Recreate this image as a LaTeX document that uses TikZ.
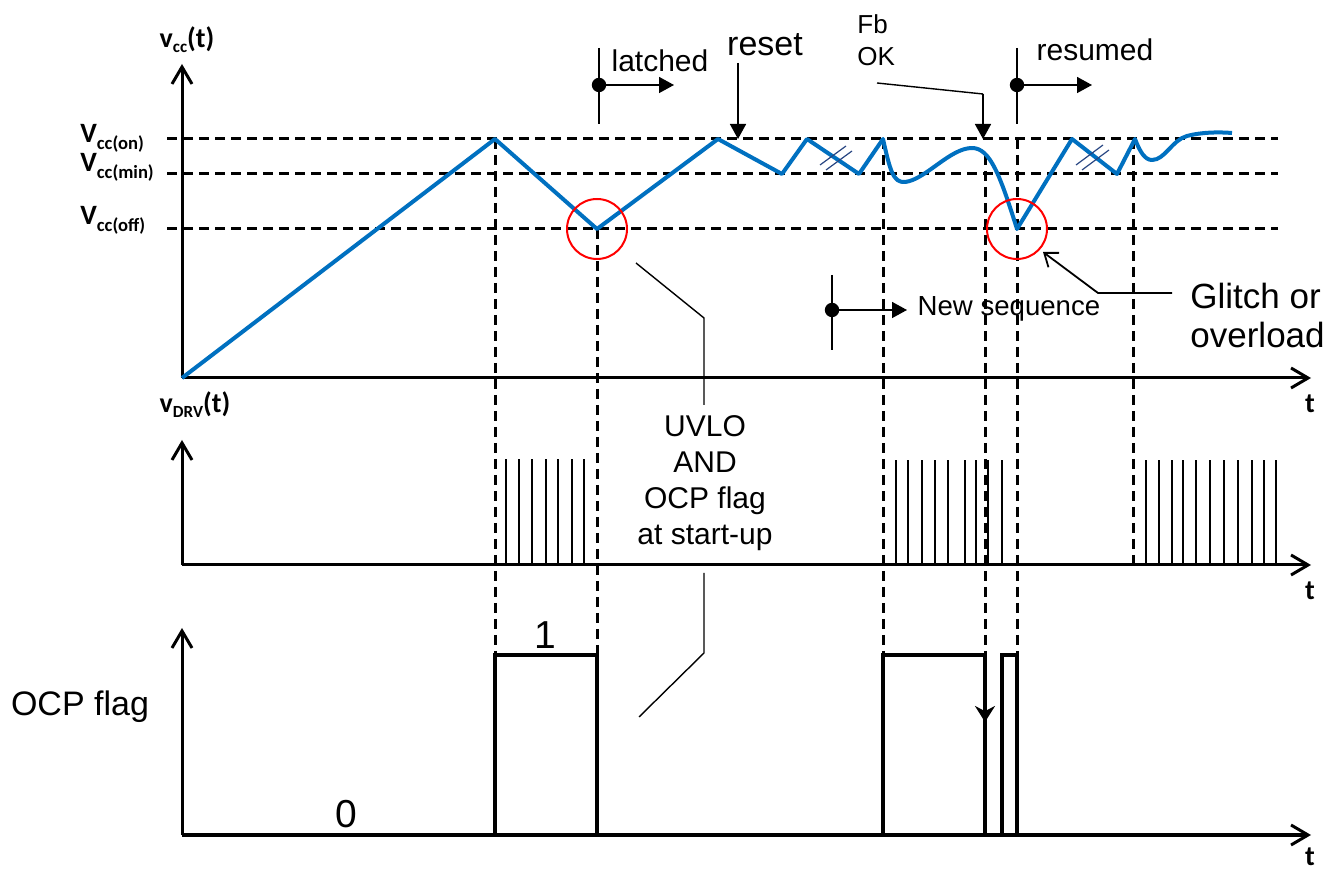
\documentclass[tikz,border=0pt]{standalone}
\usepackage{fontspec}
\setmainfont{Liberation Sans}
\newfontfamily\calibri{Carlito}
\usetikzlibrary{arrows.meta}

\definecolor{vccblue}{RGB}{0,112,192}
\definecolor{breakblue}{RGB}{40,70,130}

\newcommand{\vcclabel}[1]{{\calibri\bfseries\fontsize{14}{16}\selectfont V\raisebox{-3.5pt}{\fontsize{9.3}{11}\selectfont cc(#1)}}}
\newcommand{\sigvar}[2]{{\calibri\bfseries\fontsize{14}{16}\selectfont #1\raisebox{-2.5pt}{\fontsize{8.5}{10}\selectfont #2}(t)}}

\begin{document}
\begin{tikzpicture}[
    x=0.5pt, y=-0.5pt,
    axisline/.style={line width=1.5pt, -{Straight Barb[length=8.5pt,width=10pt]}},
    levelline/.style={line width=1.5pt, dash pattern=on 5pt off 3pt},
    guideline/.style={line width=1.5pt, dash pattern=on 5pt off 3pt},
    vccline/.style={line width=2pt, draw=vccblue, line join=round},
    breakmark/.style={line width=0.6pt, draw=breakblue},
    pulseline/.style={line width=0.7pt},
    flagline/.style={line width=1.7pt, line join=miter},
    leader/.style={line width=0.7pt},
    markerline/.style={line width=0.8pt},
    markerarrow/.style={line width=0.8pt, -{Triangle[length=7.5pt,width=8pt]}},
    glitchring/.style={line width=1pt, draw=red},
    lbl/.style={inner sep=0pt, font=\fontsize{15}{18}\selectfont},
    tlabel/.style={inner sep=0pt, font=\calibri\bfseries\fontsize{14}{16}\selectfont}
]
    \useasboundingbox (0,0) rectangle (1335,871);

    \coordinate (o1) at (182,378);
    \coordinate (o2) at (182,565);
    \coordinate (o3) at (182,835);

    % threshold levels
    \draw[levelline] (167,139) -- (1278,139);
    \draw[levelline] (167,174) -- (1278,174);
    \draw[levelline] (167,229) -- (1278,229);
    \node[anchor=base west, inner sep=0pt] (von) at (80,143) {\vcclabel{on}};
    \node[anchor=base west, inner sep=0pt] (vmin) at (80,172) {\vcclabel{min}};
    \node[anchor=base west, inner sep=0pt] (voff) at (80,225) {\vcclabel{off}};

    % time guides
    \draw[guideline] (495,139) -- (495,655);
    \draw[guideline] (597,229) -- (597,655);
    \draw[guideline] (883,139) -- (883,655);
    \draw[guideline] (985,155) -- (985,655);
    \draw[guideline] (1017,139) -- (1017,655);
    \draw[guideline] (1133,139) -- (1133,565);

    % axes
    \draw[axisline] (o1) -- (182,64);
    \draw[axisline] (o1) -- (1311,378);
    \draw[axisline] (o2) -- (182,440);
    \draw[axisline] (o2) -- (1311,565);
    \draw[axisline] (o3) -- (182,628);
    \draw[axisline] (o3) -- (1311,835);
    \node[inner sep=0pt] (vcc) at (187,40) {\sigvar{v}{cc}};
    \node[inner sep=0pt] (vdrv) at (195,405) {\sigvar{v}{DRV}};
    \node[tlabel] (t1) at (1310,404) {t};
    \node[tlabel] (t2) at (1310,591) {t};
    \node[tlabel] (t3) at (1310,857) {t};

    % vcc waveform
    \draw[vccline] (o1) -- (495,139) -- (597,229) -- (718,139) -- (782,174) -- (807,139)
        -- (859,174) -- (883,139)
        .. controls (890,170) and (893,183) .. (905,182)
        .. controls (925,180) and (950,148) .. (972,148)
        .. controls (990,148) and (1000,175) .. (1017,229)
        -- (1072,139) -- (1117,174) -- (1135,139)
        .. controls (1140,152) and (1145,160) .. (1152,160)
        .. controls (1165,160) and (1172,140) .. (1187,136)
        .. controls (1202,132) and (1220,132) .. (1232,133);
    \draw[breakmark] (820,165) -- (846,146);
    \draw[breakmark] (826,170) -- (852,151);
    \draw[breakmark] (1076,165) -- (1103,145);
    \draw[breakmark] (1082,170) -- (1109,150);
    \draw[glitchring] (597,229) circle (15pt);
    \draw[glitchring] (1017,229) circle (15pt);

    % drive pulses
    \foreach \x in {506,519,532,546,558,572,584}
        \draw[pulseline] (\x,565) -- (\x,459);
    \foreach \x in {896,908,922,935,948,965,976,988,1002}
        \draw[pulseline] (\x,565) -- (\x,460);
    \foreach \x in {1146,1159,1172,1183,1196,1210,1224,1238,1252,1264,1276}
        \draw[pulseline] (\x,565) -- (\x,460);

    % OCP flag
    \draw[flagline] (o3) -- (495,835) -- (495,655) -- (597,655) -- (597,835) -- (883,835)
        -- (883,655) -- (985,655) -- (985,835) -- (1002,835) -- (1002,655) -- (1017,655)
        -- (1017,835) -- (1275,835);
    \draw[flagline, -{Stealth[length=8pt,width=10pt]}] (985,655) -- (985,722);
    \node[lbl, font=\fontsize{17}{20}\selectfont] (ocpflag) at (80,707) {OCP flag};
    \node[lbl, font=\fontsize{19.5}{22}\selectfont] (zero) at (346,814) {0};
    \node[lbl, font=\fontsize{19.5}{22}\selectfont] (one) at (545,635) {1};

    % annotations
    \draw[markerline] (599,48) -- (599,124);
    \fill (599,85) circle (3.6pt);
    \draw[markerarrow] (599,85) -- (674,85);
    \node[lbl] (latched) at (660,61) {latched};

    \node[lbl, font=\fontsize{17}{20}\selectfont] (reset) at (765,45) {reset};
    \draw[markerarrow] (738,63) -- (738,139);

    \node[lbl, font=\fontsize{13}{16}\selectfont, align=left, anchor=north west] (fbok) at (857,14) {Fb\\OK};
    \coordinate (fbbend) at (983,94);
    \draw[leader] (877,83) -- (fbbend);
    \draw[markerarrow] (fbbend) -- (983,139);

    \draw[markerline] (1017,48) -- (1017,124);
    \fill (1017,85) circle (3.6pt);
    \draw[markerarrow] (1017,85) -- (1092,85);
    \node[lbl] (resumed) at (1095,50) {resumed};

    \draw[markerline] (832,275) -- (832,350);
    \fill (832,310) circle (3.6pt);
    \draw[markerarrow] (832,310) -- (907,310);
    \node[lbl, font=\fontsize{13.8}{16}\selectfont] (newseq) at (1009,309) {New sequence};

    \node[lbl, font=\fontsize{17.5}{19.5}\selectfont, align=left, anchor=north west] (glitch) at (1190,283) {Glitch or\\overload};
    \coordinate (glitchlead) at (1172,293);
    \coordinate (glitchbend) at (1098,293);
    \draw[leader, line width=0.9pt, -{Straight Barb[length=6pt,width=9pt]}] (glitchlead) -- (glitchbend) -- (1043,252);

    \node[lbl, align=center] (uvlo) at (705,483) {UVLO\\AND\\OCP flag\\at start-up};
    \draw[leader] (704,573) -- (704,653) -- (639,717);
    \draw[leader] (636,263) -- (704,318) -- (704,405);
\end{tikzpicture}
\end{document}
